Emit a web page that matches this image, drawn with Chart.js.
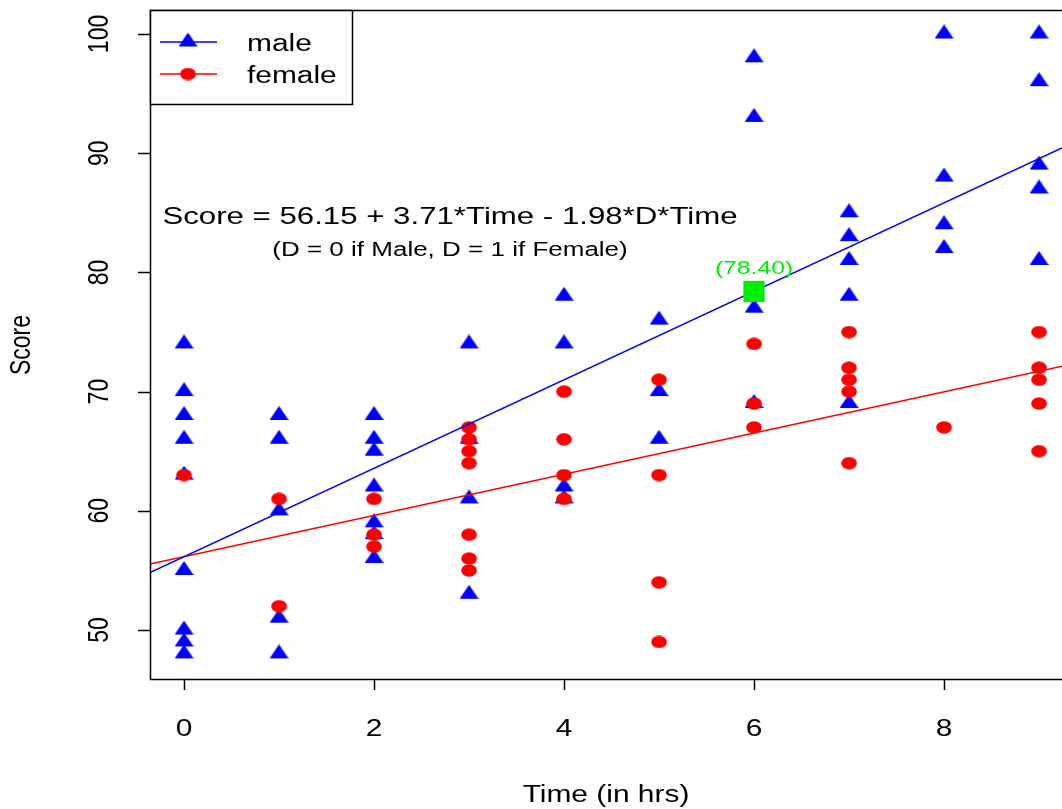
<!DOCTYPE html>
<html>
<head>
<meta charset="utf-8">
<script src="https://cdn.jsdelivr.net/npm/chart.js@4"></script>
<style>
  html, body { margin: 0; padding: 0; background: #ffffff; }
  canvas { display: block; }
</style>
</head>
<body>
<canvas id="chart" width="1062" height="809"></canvas>
<script>
// scores, one entry per point
const maleTime = [0, 0, 0, 0, 0, 0, 0, 0, 0, 1, 1, 1, 1, 1, 2, 2, 2, 2, 2, 2, 2, 3, 3, 3, 3, 4, 4, 4, 4, 5, 5, 5, 6, 6, 6, 6, 7, 7, 7, 7, 7, 8, 8, 8, 8, 9, 9, 9, 9, 9];
const maleScore = [74, 70, 68, 66, 63, 55, 50, 49, 48, 68, 66, 60, 51, 48, 68, 66, 65, 62, 59, 58, 56, 74, 66, 61, 53, 78, 74, 62, 61, 76, 70, 66, 98, 93, 77, 69, 85, 83, 81, 78, 69, 100, 88, 84, 82, 100, 96, 89, 87, 81];
const femaleTime = [0, 1, 1, 2, 2, 2, 3, 3, 3, 3, 3, 3, 3, 4, 4, 4, 4, 5, 5, 5, 5, 6, 6, 6, 7, 7, 7, 7, 7, 8, 9, 9, 9, 9, 9];
const femaleScore = [63, 61, 52, 61, 58, 57, 67, 66, 65, 64, 58, 56, 55, 70, 66, 63, 61, 71, 63, 54, 49, 74, 69, 67, 75, 72, 71, 70, 64, 67, 75, 72, 71, 69, 65];

// fitted model: Score = b0 + b1*Time + b2*D*Time
const coefs = [56.15, 3.71, -1.98];
const highlight = { x: 6, y: 78.40, label: "(78.40)" };

const xTicks = [0, 2, 4, 6, 8];
const yTicks = [50, 60, 70, 80, 90, 100];
const xRange = [-0.358, 9.242];
const yRange = [45.81, 102.01];

const seriesNames = ["male", "female"];
const eqLines = ["Score = 56.15 + 3.71*Time - 1.98*D*Time", "(D = 0 if Male, D = 1 if Female)"];
const xTitle = "Time (in hrs)";
const yTitle = "Score";

const BLUE = "#0000ff";
const RED = "#ff0000";
const GREEN = "#00ee00";
const FONT = '"Liberation Sans", Arial, sans-serif';
const SX = 1.3; // the original is stretched sideways, text too

function toPoints(xs, ys) {
  let pts = [];
  for (let i = 0; i < xs.length; ++i) {
    pts.push({ x: xs[i], y: ys[i] });
  }
  return pts;
}

function fitLine(d) {
  // line across the whole plot, like abline()
  let slope = coefs[1] + coefs[2] * d;
  return xRange.map(function (x) {
    return { x: x, y: coefs[0] + slope * x };
  });
}

// wide marker images, since the original picture is stretched sideways
function makeTriangle(color) {
  let r = 9.3;
  let w = 19;
  let c = document.createElement("canvas");
  c.width = w;
  c.height = Math.round(2 * r);
  let g = c.getContext("2d");
  g.fillStyle = color;
  g.beginPath();
  g.moveTo(w / 2, 0);
  g.lineTo(w, 1.5 * r);
  g.lineTo(0, 1.5 * r);
  g.closePath();
  g.fill();
  return c;
}

function makeEllipse(color) {
  let c = document.createElement("canvas");
  c.width = 16;
  c.height = 13;
  let g = c.getContext("2d");
  g.fillStyle = color;
  g.beginPath();
  g.ellipse(8, 6.5, 7.8, 6.2, 0, 0, Math.PI * 2);
  g.fill();
  return c;
}

const triImg = makeTriangle(BLUE);
const dotImg = makeEllipse(RED);

function wideText(ctx, txt, x, y, size, color, align) {
  ctx.save();
  ctx.translate(x, y);
  ctx.scale(SX, 1);
  ctx.font = size + "px " + FONT;
  ctx.fillStyle = color;
  ctx.textAlign = align || "center";
  ctx.textBaseline = "middle";
  ctx.fillText(txt, 0, 0);
  ctx.restore();
}

function upText(ctx, txt, x, y, size, color) {
  ctx.save();
  ctx.translate(x, y);
  ctx.rotate(-Math.PI / 2);
  ctx.scale(1, SX);
  ctx.font = size + "px " + FONT;
  ctx.fillStyle = color;
  ctx.textAlign = "center";
  ctx.textBaseline = "middle";
  ctx.fillText(txt, 0, 0);
  ctx.restore();
}

const rDecor = {
  id: "rDecor",
  afterDraw(chart) {
    const ctx = chart.ctx;
    const a = chart.chartArea;
    const xs = chart.scales.x;
    const ys = chart.scales.y;

    ctx.save();
    ctx.strokeStyle = "#000";
    ctx.lineWidth = 1.5;
    // box (right side runs off the picture)
    ctx.beginPath();
    ctx.moveTo(a.right, a.top + 0.5);
    ctx.lineTo(a.left + 0.5, a.top + 0.5);
    ctx.lineTo(a.left + 0.5, a.bottom - 0.5);
    ctx.lineTo(a.right, a.bottom - 0.5);
    ctx.stroke();

    // x axis ticks and labels
    ctx.beginPath();
    xTicks.forEach(function (t) {
      let px = Math.round(xs.getPixelForValue(t)) + 0.5;
      ctx.moveTo(px, a.bottom);
      ctx.lineTo(px, a.bottom + 10);
    });
    ctx.stroke();
    xTicks.forEach(function (t) {
      wideText(ctx, String(t), xs.getPixelForValue(t), a.bottom + 50, 23, "#000");
    });

    // y axis ticks and labels, R style (parallel to axis)
    ctx.beginPath();
    yTicks.forEach(function (t) {
      let py = Math.round(ys.getPixelForValue(t)) + 0.5;
      ctx.moveTo(a.left, py);
      ctx.lineTo(a.left - 12, py);
    });
    ctx.stroke();
    yTicks.forEach(function (t) {
      upText(ctx, String(t), a.left - 50, ys.getPixelForValue(t), 23, "#000");
    });

    wideText(ctx, xTitle, (a.left + a.right) / 2, a.bottom + 116, 23, "#000");
    upText(ctx, yTitle, 22, (a.top + a.bottom) / 2, 23, "#000");

    // legend box
    ctx.fillStyle = "#fff";
    ctx.fillRect(a.left, a.top, 202, 94);
    ctx.strokeRect(a.left + 0.5, a.top + 0.5, 202, 94);
    const legColors = [BLUE, RED];
    const legImgs = [triImg, dotImg];
    for (let i = 0; i < seriesNames.length; ++i) {
      let ly = a.top + 32 + i * 32;
      ctx.strokeStyle = legColors[i];
      ctx.lineWidth = 1.5;
      ctx.beginPath();
      ctx.moveTo(a.left + 10, ly);
      ctx.lineTo(a.left + 67, ly);
      ctx.stroke();
      Chart.helpers.drawPoint(ctx, {
        pointStyle: legImgs[i],
        radius: 8,
        rotation: 0,
        borderWidth: 0
      }, a.left + 38, ly);
      wideText(ctx, seriesNames[i], a.left + 97, ly + 3, 23, "#000", "left");
    }

    // the fitted equation
    wideText(ctx, eqLines[0], xs.getPixelForValue(2.8), ys.getPixelForValue(84.65), 24, "#000");
    wideText(ctx, eqLines[1], xs.getPixelForValue(2.8), ys.getPixelForValue(81.8), 20, "#000");

    // label over the green square
    wideText(ctx, highlight.label, xs.getPixelForValue(highlight.x), ys.getPixelForValue(highlight.y) - 23, 19, GREEN);
    ctx.restore();
  }
};

function drawChart() {
  const ctx = document.getElementById("chart").getContext("2d");
  new Chart(ctx, {
    type: "scatter",
    data: {
      datasets: [
        {
          label: "predicted",
          data: [{ x: highlight.x, y: highlight.y }],
          pointStyle: "rect",
          pointRadius: 15,
          backgroundColor: GREEN,
          borderWidth: 0
        },
        {
          label: "male fit",
          data: fitLine(0),
          showLine: true,
          borderColor: BLUE,
          borderWidth: 1.5,
          pointRadius: 0
        },
        {
          label: "female fit",
          data: fitLine(1),
          showLine: true,
          borderColor: RED,
          borderWidth: 1.5,
          pointRadius: 0
        },
        {
          label: "female",
          data: toPoints(femaleTime, femaleScore),
          pointStyle: dotImg,
          pointRadius: 8,
          backgroundColor: RED,
          borderWidth: 0
        },
        {
          label: "male",
          data: toPoints(maleTime, maleScore),
          pointStyle: triImg,
          pointRadius: 10,
          backgroundColor: BLUE,
          borderWidth: 0
        }
      ]
    },
    options: {
      responsive: false,
      animation: false,
      devicePixelRatio: 1,
      layout: { autoPadding: false, padding: { left: 150, top: 10, right: 0, bottom: 129 } },
      plugins: { legend: { display: false }, tooltip: { enabled: false } },
      scales: {
        x: { type: "linear", min: xRange[0], max: xRange[1], display: false },
        y: { type: "linear", min: yRange[0], max: yRange[1], display: false }
      }
    },
    plugins: [rDecor]
  });
}

drawChart();
</script>
</body>
</html>
